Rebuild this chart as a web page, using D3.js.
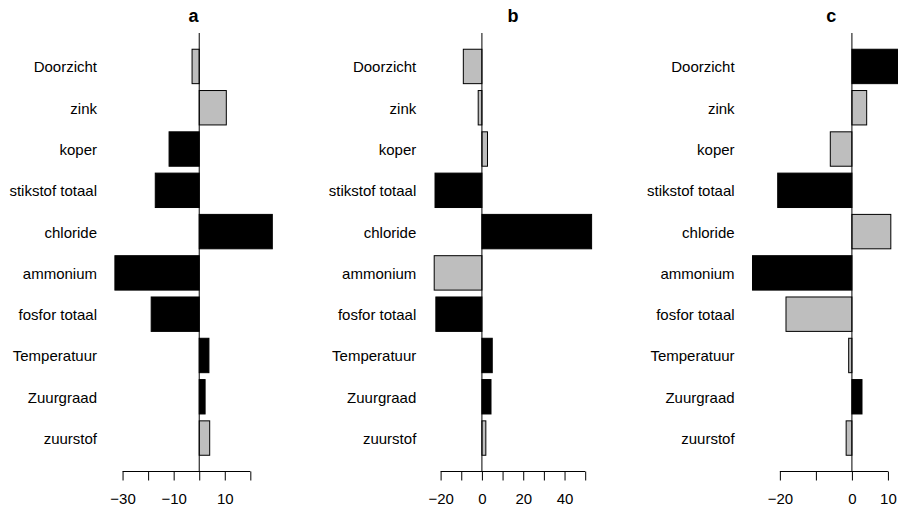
<!DOCTYPE html>
<html>
<head>
<meta charset="utf-8">
<script src="https://cdn.jsdelivr.net/npm/d3@7"></script>
<style>
  body { margin: 0; background: #fff; }
  svg { display: block; font-family: "Liberation Sans", Arial, sans-serif; }
</style>
</head>
<body>
<svg id="chart" width="898" height="507"></svg>
<script>
// variables, bottom bar first (as R draws horizontal barplots)
var variables = ["zuurstof", "Zuurgraad", "Temperatuur", "fosfor totaal", "ammonium",
    "chloride", "stikstof totaal", "koper", "zink", "Doorzicht"];

// panel titles
var panelTitles = ["a", "b", "c"];

// values per panel
var valuesA = [4.1, 2.3, 3.8, -18.8, -33.0, 28.6, -17.2, -11.8, 10.6, -2.8];
var valuesB = [1.9, 4.4, 5.0, -22.3, -23.1, 53.1, -22.7, 2.7, -1.8, -9.0];
var valuesC = [-1.6, 2.8, -0.9, -18.3, -27.6, 10.8, -20.6, -6.0, 4.1, 16.1];

// 1 = black bar, 0 = grey bar
var blackA = [0, 1, 1, 1, 1, 1, 1, 1, 0, 0];
var blackB = [0, 1, 1, 1, 0, 1, 1, 0, 0, 0];
var blackC = [0, 1, 0, 0, 1, 0, 1, 0, 0, 1];

// axis ticks and which of them get a label
var ticksA = [-30, -20, -10, 0, 10, 20];
var labelsA = [-30, -10, 10];
var ticksB = [-20, -10, 0, 10, 20, 30, 40, 50];
var labelsB = [-20, 0, 20, 40];
var ticksC = [-20, -10, 0, 10];
var labelsC = [-20, 0, 10];

var panels = [
    { title: panelTitles[0], values: valuesA, black: blackA, ticks: ticksA, labels: labelsA },
    { title: panelTitles[1], values: valuesB, black: blackB, ticks: ticksB, labels: labelsB },
    { title: panelTitles[2], values: valuesC, black: blackC, ticks: ticksC, labels: labelsC }
];

var svg = d3.select("#chart");

var plot = {
    lefts: [108.6, 427.9, 746.2],
    width: 170,
    top: 33,
    bottom: 471.5
};

// R barplot geometry: width 1, space 0.2, 4% axis extension
var nBars = variables.length;
var yLo = 0.2, yHi = 1.2 * nBars;
var yExt = 0.04 * (yHi - yLo);
var y = d3.scaleLinear()
    .domain([yLo - yExt, yHi + yExt])
    .range([plot.bottom, plot.top]);

panels.forEach(function (p, k) {
    var g = svg.append("g");
    var left = plot.lefts[k];

    var lo = Math.min(0, d3.min(p.values)), hi = Math.max(0, d3.max(p.values));
    var ext = 0.04 * (hi - lo);
    var x = d3.scaleLinear()
        .domain([lo - ext, hi + ext])
        .range([left, left + plot.width]);

    // bars
    g.selectAll("rect.bar")
        .data(p.values)
        .enter().append("rect")
        .attr("class", "bar")
        .attr("x", d => Math.min(x(0), x(d)))
        .attr("width", d => Math.abs(x(d) - x(0)))
        .attr("y", (d, i) => y(1.2 + 1.2 * i))
        .attr("height", (d, i) => y(0.2 + 1.2 * i) - y(1.2 + 1.2 * i))
        .style("fill", (d, i) => p.black[i] ? "#000" : "#bebebe")
        .style("stroke", "#000")
        .style("stroke-width", 1);

    // zero line
    g.append("line")
        .attr("x1", x(0)).attr("x2", x(0))
        .attr("y1", plot.top).attr("y2", plot.bottom)
        .style("stroke", "#000")
        .style("stroke-width", 1);

    // variable names
    g.selectAll("text.name")
        .data(variables)
        .enter().append("text")
        .attr("class", "name")
        .attr("x", left - 11.6)
        .attr("y", (d, i) => y(0.7 + 1.2 * i))
        .attr("dy", "0.4em")
        .attr("text-anchor", "end")
        .style("font-size", "15px")
        .text(d => d);

    // x axis
    var axis = d3.axisBottom(x)
        .tickValues(p.ticks)
        .tickSize(9)
        .tickSizeOuter(0)
        .tickPadding(13)
        .tickFormat(d => p.labels.indexOf(d) >= 0 ? d3.format("")(d) : "");
    var ax = g.append("g")
        .attr("transform", "translate(0," + plot.bottom + ")")
        .call(axis);
    ax.select(".domain").remove();
    ax.append("line")
        .attr("x1", x(p.ticks[0])).attr("x2", x(p.ticks[p.ticks.length - 1]))
        .attr("stroke", "#000");
    ax.selectAll(".tick line").attr("stroke", "#000");
    ax.selectAll(".tick text")
        .attr("fill", "#000")
        .style("font-size", "15px")
        .style("font-family", "'Liberation Sans', Arial, sans-serif");

    // panel title
    g.append("text")
        .attr("x", left + plot.width / 2)
        .attr("y", 21.7)
        .attr("text-anchor", "middle")
        .style("font-size", "18px")
        .style("font-weight", "bold")
        .text(p.title);
});
</script>
</body>
</html>
